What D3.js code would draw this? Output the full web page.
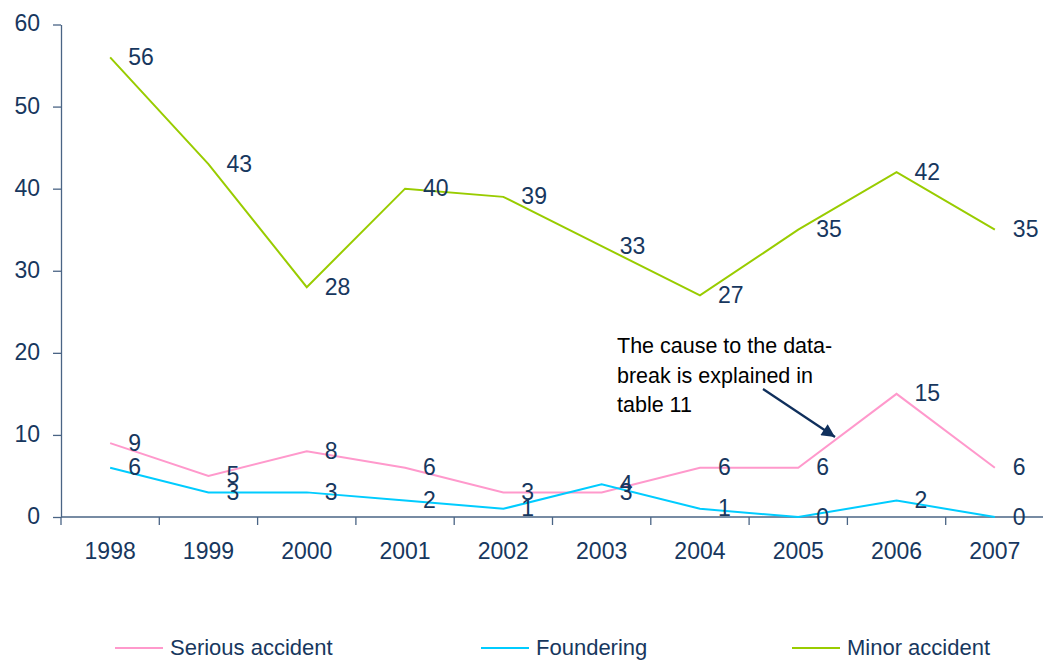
<!DOCTYPE html>
<html>
<head>
<meta charset="utf-8">
<script src="https://cdn.jsdelivr.net/npm/d3@7"></script>
<style>
  html, body { margin: 0; padding: 0; background: #fff; }
  svg { display: block; font-family: "Liberation Sans", Arial, sans-serif; }
</style>
</head>
<body>
<svg id="chart" width="1043" height="660"></svg>
<script>
const years = ["1998","1999","2000","2001","2002","2003","2004","2005","2006","2007"];
const serious = [9, 5, 8, 6, 3, 3, 6, 6, 15, 6];
const foundering = [6, 3, 3, 2, 1, 4, 1, 0, 2, 0];
const minor = [56, 43, 28, 40, 39, 33, 27, 35, 42, 35];
const yTicks = [0, 10, 20, 30, 40, 50, 60];
const seriesNames = ["Serious accident", "Foundering", "Minor accident"];
const seriesColors = ["#FF99CC", "#00CCFF", "#99CC00"];
const annotationLines = ["The cause to the data-", "break is explained in", "table 11"];

const textColor = "#17375E";
const axisColor = "#4A6485";
const numSize = 23;
const legendSize = 22;

const svg = d3.select("#chart");

const x = d3.scaleBand().domain(years).range([61, 1044]).padding(0);
const y = d3.scaleLinear().domain([0, 60]).range([517, 24.5]);
const cx = d => x(d) + x.bandwidth() / 2;

// Y axis
const yAxis = svg.append("g")
  .attr("transform", "translate(61,0)")
  .call(d3.axisLeft(y).tickValues(yTicks).tickSize(8).tickPadding(13).tickSizeOuter(0));
yAxis.select(".domain").attr("stroke", axisColor).attr("stroke-width", 1.3);
yAxis.selectAll(".tick line").attr("stroke", axisColor).attr("stroke-width", 1.3);
yAxis.selectAll(".tick text")
  .attr("fill", textColor)
  .attr("font-size", numSize)
  .attr("font-family", "Liberation Sans, Arial, sans-serif")
  .attr("dy", "0.28em");

// X axis (ticks at category boundaries)
const gx = svg.append("g");
gx.append("line")
  .attr("x1", x.range()[0]).attr("x2", x.range()[1])
  .attr("y1", y(0)).attr("y2", y(0))
  .attr("stroke", axisColor).attr("stroke-width", 1.3);
const boundaries = years.map(d => x(d)).concat([x.range()[1]]);
gx.selectAll("line.tick").data(boundaries).enter().append("line")
  .attr("class", "tick")
  .attr("x1", d => d).attr("x2", d => d)
  .attr("y1", y(0)).attr("y2", y(0) + 8)
  .attr("stroke", axisColor).attr("stroke-width", 1.3);
gx.selectAll("text").data(years).enter().append("text")
  .attr("x", d => cx(d))
  .attr("y", y(0) + 42)
  .attr("text-anchor", "middle")
  .attr("fill", textColor)
  .attr("font-size", numSize)
  .text(d => d);

// Lines
const allSeries = [serious, foundering, minor];
const line = d3.line().x((d, i) => cx(years[i])).y(d => y(d));
allSeries.forEach((vals, si) => {
  svg.append("path")
    .datum(vals)
    .attr("fill", "none")
    .attr("stroke", seriesColors[si])
    .attr("stroke-width", 2)
    .attr("stroke-linejoin", "miter")
    .attr("d", line);
});

// Data labels
allSeries.forEach((vals, si) => {
  svg.append("g").selectAll("text").data(vals).enter().append("text")
    .attr("x", (d, i) => cx(years[i]) + 18)
    .attr("y", d => y(d) + 7.5)
    .attr("fill", textColor)
    .attr("font-size", numSize)
    .text(d => d);
});

// Annotation
const ann = svg.append("text")
  .attr("x", 617)
  .attr("y", 353)
  .attr("fill", "#000")
  .attr("font-size", 21.5);
annotationLines.forEach((t, i) => {
  ann.append("tspan").attr("x", 617).attr("dy", i === 0 ? 0 : 29.5).text(t);
});

// Arrow
const defs = svg.append("defs");
defs.append("marker")
  .attr("id", "arrowhead")
  .attr("viewBox", "0 0 10 10")
  .attr("refX", 10).attr("refY", 5)
  .attr("markerWidth", 7).attr("markerHeight", 6)
  .attr("markerUnits", "strokeWidth")
  .attr("orient", "auto")
  .append("path")
  .attr("d", "M0,0 L10,5 L0,10 Z")
  .attr("fill", "#0F2F5C");
svg.append("line")
  .attr("x1", 763).attr("y1", 389)
  .attr("x2", 835).attr("y2", 437)
  .attr("stroke", "#0F2F5C")
  .attr("stroke-width", 2.2)
  .attr("marker-end", "url(#arrowhead)");

// Legend
const legendX = [115, 481, 792];
seriesNames.forEach((name, i) => {
  const g = svg.append("g");
  g.append("line")
    .attr("x1", legendX[i]).attr("x2", legendX[i] + 48)
    .attr("y1", 648).attr("y2", 648)
    .attr("stroke", seriesColors[i]).attr("stroke-width", 2);
  g.append("text")
    .attr("x", legendX[i] + 55)
    .attr("y", 655)
    .attr("fill", textColor)
    .attr("font-size", legendSize)
    .text(name);
});
</script>
</body>
</html>
